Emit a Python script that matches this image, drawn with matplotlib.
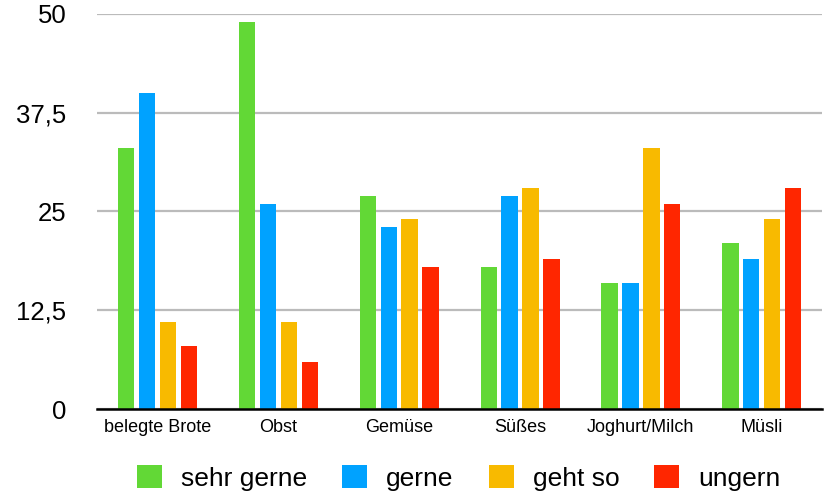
import numpy as np
import matplotlib
matplotlib.use("Agg")
import matplotlib.pyplot as plt

plt.rcParams['font.family'] = ['Liberation Sans', 'DejaVu Sans']

categories = ["belegte Brote", "Obst", "Gemüse", "Süßes", "Joghurt/Milch", "Müsli"]
series_names = ["sehr gerne", "gerne", "geht so", "ungern"]
sehr_gerne = [33, 49, 27, 18, 16, 21]
gerne = [40, 26, 23, 27, 16, 19]
geht_so = [11, 11, 24, 28, 33, 24]
ungern = [8, 6, 18, 19, 26, 28]
colors = ["#62D836", "#00A2FF", "#F8BA00", "#FF2600"]
yticks = [0, 12.5, 25, 37.5, 50]
ytick_labels = ["0", "12,5", "25", "37,5", "50"]

fig = plt.figure(figsize=(8.25, 4.97), dpi=100)
ax = fig.add_axes([0.1176, 0.177, 0.879, 0.795])

x = np.arange(len(categories))
step = 0.173
width = 0.135
for i, (vals, name) in enumerate(zip([sehr_gerne, gerne, geht_so, ungern], series_names)):
    ax.bar(x + (i - 1.5) * step, vals, width, color=colors[i], label=name, zorder=3)

ax.set_xlim(-0.5, len(categories) - 0.5)
ax.set_ylim(0, 50)
ax.set_yticks(yticks)
ax.set_yticklabels(ytick_labels, fontsize=18.5)
ax.set_xticks(x)
ax.set_xticklabels(categories, fontsize=13)
ax.tick_params(axis='both', length=0)
ax.tick_params(axis='y', pad=22)
ax.tick_params(axis='x', pad=7)
ax.yaxis.grid(True, color="#BBBBBB", linewidth=1.6, zorder=0)
ax.set_axisbelow(True)
for s in ["top", "right", "left"]:
    ax.spines[s].set_visible(False)
ax.spines["bottom"].set_linewidth(1.8)
ax.spines["bottom"].set_zorder(4)

fig.legend(loc="center", bbox_to_anchor=(0.556, 0.038), ncol=4, frameon=False,
           fontsize=19, handlelength=0.95, handleheight=0.95, handletextpad=0.72,
           columnspacing=1.33)

fig.savefig("out.png", dpi=100)
